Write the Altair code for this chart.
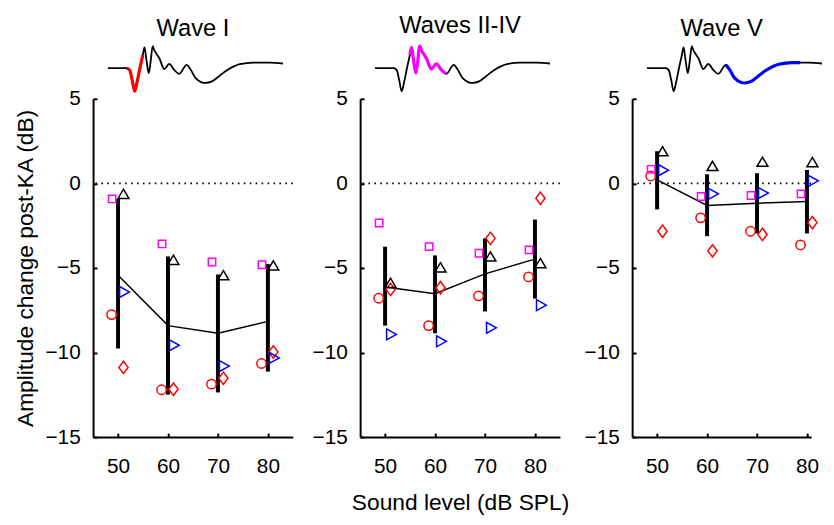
import altair as alt
import pandas as pd

# ---------------- data ----------------
levels = [50, 60, 70, 80]
panels = ["Wave I", "Waves II-IV", "Wave V"]

mean_vals = {
    "Wave I": [-5.43, -8.41, -8.86, -8.16],
    "Waves II-IV": [-6.13, -6.52, -5.35, -4.48],
    "Wave V": [0.21, -1.31, -1.17, -1.07],
}
bar_low = {
    "Wave I": [-9.77, -12.49, -12.36, -11.13],
    "Waves II-IV": [-8.41, -8.86, -7.57, -6.81],
    "Wave V": [-1.54, -3.12, -2.96, -2.96],
}
bar_high = {
    "Wave I": [-0.92, -4.32, -5.39, -4.77],
    "Waves II-IV": [-3.74, -4.26, -3.25, -2.14],
    "Wave V": [1.90, 0.54, 0.60, 0.79],
}

circle_vals = {
    "Wave I": [-7.76, -12.20, -11.87, -10.65],
    "Waves II-IV": [-6.79, -8.41, -6.65, -5.53],
    "Wave V": [0.44, -2.04, -2.83, -3.64],
}
diamond_vals = {
    "Wave I": [-10.88, -12.17, -11.52, -9.97],
    "Waves II-IV": [-6.27, -6.17, -3.25, -0.88],
    "Wave V": [-2.83, -3.99, -3.02, -2.32],
}
square_vals = {
    "Wave I": [-0.92, -3.58, -4.65, -4.81],
    "Waves II-IV": [-2.34, -3.74, -4.13, -3.93],
    "Wave V": [0.83, -0.78, -0.72, -0.62],
}
tri_up_vals = {
    "Wave I": [-0.62, -4.52, -5.43, -4.85],
    "Waves II-IV": [-5.88, -4.96, -4.32, -4.71],
    "Wave V": [1.90, 1.03, 1.28, 1.26],
}
tri_right_vals = {
    "Wave I": [-6.42, -9.57, -10.80, -10.32],
    "Waves II-IV": [-8.93, -9.34, -8.54, -7.20],
    "Wave V": [0.78, -0.62, -0.57, 0.15],
}

# example ABR trace (time and amplitude in arbitrary units)
wave_t = [0, 19, 22, 24.5, 27, 29.5, 32.7, 35.3, 37, 39, 41.3, 43, 45.3, 47, 48.7,
          52, 57, 62, 67, 72, 79.7, 83.7, 88.7, 98.7, 105.3, 112, 120, 133.4, 147,
          155, 163.4, 177]
wave_amp = [0, 0, -2, -12, -23.4, -14, 1.6, 13.3, 21, 8, -5, 5, 22.3, 18, 15,
            10, -1, 4.3, -1.7, -5.7, 3.3, -1.7, -10, -15, -13.4, -8.4, -2.4, 4, 5.6,
            5.6, 5.6, 4.7]
highlight_range = {
    "Wave I": [19, 35.3],
    "Waves II-IV": [35.3, 72],
    "Wave V": [79.7, 155],
}
highlight_color = {"Wave I": "#ff0000", "Waves II-IV": "#ff00ff", "Wave V": "#0000ff"}

y_ticks = [5, 0, -5, -10, -15]

# ---------------- styles ----------------
FONT = "Liberation Sans"
series_style = [
    ("circle", circle_vals, "#ff0000", "circle", 90, -6.5),
    ("square", square_vals, "#ff00ff", "square", 56, -6),
    ("diamond", diamond_vals, "#ff0000", "M0,-1L0.75,0L0,1L-0.75,0Z", 156, 5.5),
    ("tri_up", tri_up_vals, "#000000", "M0,-0.85L1,0.85L-1,0.85Z", 121, 5.5),
    ("tri_right", tri_right_vals, "#0000ff", "M-0.9,-1L0.9,0L-0.9,1Z", 121, 6.5),
]
PX_PER_DB = 5.05
PLOT_H = 342
WAVE_GAP = 6      # px between wave trace box and plot top
WAVE_BOX = 50     # px height of the wave box


def panel(name, width, ytitle, xtitle):
    d = {"level": levels, "mean": mean_vals[name], "lo": bar_low[name],
         "hi": bar_high[name]}
    for key, vals, *_ in series_style:
        d[key] = vals[name]
    df = pd.DataFrame(d)
    xmax = 45 + width / PX_PER_DB
    xs = alt.Scale(domain=[45, xmax], nice=False, zero=False)
    ys = alt.Scale(domain=[-15, 5], nice=False, zero=False)

    x_axis = alt.Axis(values=levels, ticks=False, grid=False, domainWidth=2,
                      domainColor="black", labelPadding=19, labelFontSize=21,
                      title=xtitle, titleFontSize=23, titlePadding=15,
                      labelFont=FONT, titleFont=FONT, titleFontWeight="normal",
                      labelColor="black", titleColor="black")
    y_axis = alt.Axis(values=y_ticks, ticks=False, grid=False, domainWidth=2,
                      domainColor="black", labelPadding=13, labelFontSize=21,
                      title=ytitle, titleFontSize=23, titlePadding=8,
                      labelFont=FONT, titleFont=FONT, titleFontWeight="normal",
                      labelColor="black", titleColor="black")

    bars = alt.Chart(df).mark_rule(color="black", strokeWidth=4, strokeCap="butt").encode(
        x=alt.X("level:Q", scale=xs, axis=x_axis),
        y=alt.Y("lo:Q", scale=ys, axis=y_axis),
        y2="hi:Q",
    )
    ticks = alt.Chart(df).mark_point(opacity=0).encode(
        x=alt.X("level:Q", scale=xs,
                axis=alt.Axis(orient="bottom", offset=-4, tickSize=4, tickWidth=2,
                              tickColor="black", labels=False, domain=False,
                              grid=False, title=None, values=levels)),
        y=alt.Y("mean:Q", scale=ys,
                axis=alt.Axis(orient="left", offset=-4, tickSize=4, tickWidth=2,
                              tickColor="black", labels=False, domain=False,
                              grid=False, title=None, values=y_ticks)),
    )
    zero = alt.Chart(pd.DataFrame({"zero": [0]})).mark_rule(
        color="black", strokeWidth=1.6, strokeDash=[1.6, 4.4]
    ).encode(y=alt.Y("zero:Q", scale=ys, axis=None))
    line = alt.Chart(df).mark_line(color="black", strokeWidth=1.5).encode(
        x=alt.X("level:Q", scale=xs, axis=None),
        y=alt.Y("mean:Q", scale=ys, axis=None),
    )
    layers = [zero, bars, ticks, line]
    for key, vals, color, shape, size, dx in series_style:
        layers.append(
            alt.Chart(df).mark_point(shape=shape, size=size, color=color, filled=False,
                                     strokeWidth=1.5, xOffset=dx, opacity=1).encode(
                x=alt.X("level:Q", scale=xs, axis=None),
                y=alt.Y(f"{key}:Q", scale=ys, axis=None),
            )
        )

    # waveform inset drawn above the plot area (1 px per unit, box of WAVE_BOX px)
    wdf = pd.DataFrame({"t": wave_t, "amp": wave_amp})
    lo, hi = highlight_range[name]
    bottom_amp = -WAVE_BOX / 2
    d0 = bottom_amp - PLOT_H - WAVE_GAP
    wxs = alt.Scale(domain=[-15, -15 + width], nice=False, zero=False)
    wys = alt.Scale(domain=[d0, d0 + PLOT_H], nice=False, zero=False)
    wbase = alt.Chart(wdf).encode(
        x=alt.X("t:Q", scale=wxs, axis=None),
        y=alt.Y("amp:Q", scale=wys, axis=None),
        order="t:Q",
    )
    wblack = wbase.mark_line(color="black", strokeWidth=1.8, interpolate="monotone",
                             clip=False)
    whl = wbase.transform_filter(
        (alt.datum.t >= lo) & (alt.datum.t <= hi)
    ).mark_line(color=highlight_color[name], strokeWidth=3.2, interpolate="monotone",
                clip=False)
    layers += [wblack, whl]

    return alt.layer(*layers).resolve_scale(
        x="independent", y="independent"
    ).resolve_axis(x="independent", y="independent").properties(
        width=width, height=PLOT_H,
        title=alt.TitleParams(name, anchor="middle", fontSize=24, font=FONT,
                              fontWeight="normal", color="black", offset=2),
    )


widths = [202, 202, 181]
ytitles = ["Amplitude change post-KA (dB)", None, None]
xtitles = [None, "Sound level (dB SPL)", None]

p = [panel(n, w, yt, xt) for n, w, yt, xt in zip(panels, widths, ytitles, xtitles)]

chart = alt.hconcat(alt.hconcat(p[0], p[1], spacing=18), p[2], spacing=15).properties(
    padding={"left": 6, "top": 3, "right": 0, "bottom": 0}
).configure_view(stroke=None)

chart.save("out.html", embed_options={"renderer": "svg", "actions": False})
